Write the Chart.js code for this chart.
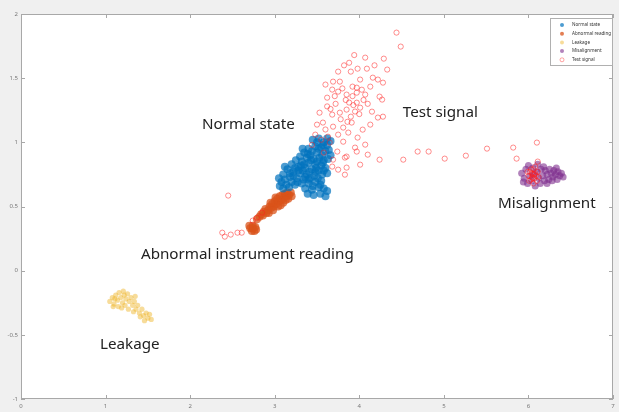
<!DOCTYPE html>
<html><head><meta charset="utf-8">
<script src="https://cdn.jsdelivr.net/npm/chart.js@4"></script>
<style>html,body{margin:0;padding:0;background:#f0f0f0;overflow:hidden}</style>
</head><body>
<canvas id="c" width="619" height="412"></canvas>
<script>
// ---- data ----
const seriesNames = ['Normal state', 'Abnormal reading', 'Leakage', 'Misalignment', 'Test signal'];
const xTicks = [0, 1, 2, 3, 4, 5, 6, 7];
const yTicks = [-1, -0.5, 0, 0.5, 1, 1.5, 2];

const normalState = [
  [3.45,1.02],[3.52,1.03],[3.58,1.00],[3.62,0.98],[3.66,1.01],[3.55,0.96],[3.48,0.97],[3.40,0.95],[3.60,0.93],[3.50,0.92],
  [3.42,0.90],[3.35,0.92],[3.56,0.90],[3.64,0.94],[3.38,0.88],[3.46,0.87],[3.53,0.88],[3.30,0.89],[3.66,0.90],[3.58,0.86],
  [3.25,0.86],[3.32,0.85],[3.40,0.84],[3.48,0.83],[3.55,0.82],[3.20,0.83],[3.28,0.81],[3.36,0.80],[3.44,0.79],[3.52,0.78],
  [3.60,0.80],[3.15,0.79],[3.22,0.77],[3.30,0.76],[3.38,0.75],[3.47,0.74],[3.56,0.75],[3.10,0.75],[3.18,0.73],[3.26,0.72],
  [3.34,0.71],[3.42,0.72],[3.62,0.76],[3.12,0.81],[3.35,0.83],[3.43,0.86],[3.50,0.85],
  [3.05,0.72],[3.08,0.69],[3.12,0.71],[3.06,0.66],[3.14,0.67],[3.20,0.69],[3.10,0.64],[3.17,0.65],[3.24,0.67],
  [3.32,0.68],[3.40,0.68],[3.48,0.69],[3.55,0.70],[3.36,0.64],[3.44,0.63],[3.52,0.65],[3.58,0.64],[3.62,0.62],[3.46,0.59],
  [3.54,0.60],[3.39,0.60],[3.60,0.58],[3.50,1.00],[3.57,0.98],[3.62,1.03],[3.28,0.78],[3.48,0.77],
  [3.33,0.95],[3.44,0.93],[3.52,0.95],[3.63,0.87],[3.24,0.80],[3.33,0.78],[3.41,0.77],[3.51,0.72],[3.58,0.78],[3.18,0.76],
  [3.27,0.69],[3.36,0.73],[3.45,0.66],[3.54,0.67],[3.22,0.74],[3.40,0.71],[3.49,0.80],[3.57,0.84],[3.31,0.82],[3.39,0.91]
];
const abnormalReading = [
  [2.84,0.44],[2.87,0.46],[2.86,0.43],[2.90,0.45],[2.89,0.48],[2.92,0.47],[2.94,0.50],[2.93,0.45],[2.96,0.49],[2.97,0.52],
  [2.99,0.50],[3.00,0.54],[3.02,0.52],[3.03,0.56],[3.05,0.54],[3.06,0.58],[3.08,0.55],[3.09,0.59],[3.11,0.57],[3.12,0.60],
  [3.14,0.58],[3.15,0.61],[3.17,0.59],[3.19,0.61],[3.20,0.58],[3.04,0.50],[3.10,0.53],[3.16,0.56],[2.98,0.47],[3.07,0.51],
  [3.13,0.55],[3.01,0.57],[2.95,0.53],
  [2.71,0.33],[2.74,0.35],[2.77,0.34],[2.73,0.31],[2.76,0.31],[2.74,0.33],[2.70,0.35],[2.78,0.32],[2.79,0.40],[2.82,0.42]
];
const leakage = [
  [1.05,-0.24],[1.08,-0.21],[1.10,-0.26],[1.12,-0.19],[1.14,-0.23],[1.16,-0.17],[1.18,-0.21],[1.20,-0.25],[1.22,-0.19],[1.24,-0.22],
  [1.26,-0.18],[1.15,-0.28],[1.19,-0.29],[1.23,-0.27],[1.28,-0.24],[1.30,-0.21],[1.32,-0.27],[1.34,-0.24],[1.36,-0.30],[1.38,-0.27],
  [1.40,-0.33],[1.43,-0.30],[1.45,-0.35],[1.48,-0.33],[1.50,-0.37],[1.52,-0.34],[1.54,-0.38],[1.46,-0.39],[1.41,-0.36],[1.33,-0.32],
  [1.27,-0.30],[1.11,-0.22],[1.21,-0.16],[1.09,-0.28],[1.35,-0.20]
];
const misalignment = [
  [5.92,0.76],[5.95,0.72],[5.97,0.79],[5.99,0.68],[6.00,0.82],[6.02,0.74],[6.04,0.70],[6.05,0.80],[6.08,0.66],[6.10,0.77],
  [6.12,0.72],[6.14,0.68],[6.15,0.79],[6.17,0.74],[6.19,0.70],[6.20,0.78],[6.22,0.75],[6.24,0.71],[6.25,0.79],[6.27,0.76],
  [6.29,0.73],[6.30,0.78],[6.32,0.75],[6.34,0.71],[6.35,0.77],[6.37,0.74],[6.39,0.76],[6.41,0.73],[6.22,0.68],[6.28,0.70],
  [6.18,0.81],[6.11,0.83],[6.33,0.80],[6.06,0.75],[5.94,0.69]
];
const testSignal = [
  [4.44,1.855],[4.49,1.746],[4.07,1.660],[4.29,1.652],[4.33,1.567],[3.75,1.551],[3.90,1.551],[3.98,1.574],[4.09,1.574],[3.69,1.473],
  [3.77,1.473],[4.01,1.489],[4.16,1.504],[4.22,1.489],[4.28,1.465],[3.92,1.434],[3.97,1.426],[4.13,1.434],[3.68,1.411],[3.75,1.395],
  [3.85,1.372],[3.97,1.387],[3.62,1.348],[4.24,1.356],[4.07,1.372],[4.27,1.333],[3.53,1.231],[3.68,1.216],[3.77,1.231],[3.85,1.255],
  [3.97,1.309],[4.01,1.270],[4.15,1.239],[4.22,1.193],[4.28,1.200],[3.57,1.154],[3.50,1.138],[3.69,1.122],[3.81,1.115],[3.91,1.154],
  [4.04,1.099],[4.13,1.138],[3.48,1.060],[3.63,1.044],[3.75,1.060],[3.87,1.076],[3.98,1.037],[3.65,0.998],[3.81,1.005],[3.95,0.959],
  [4.07,0.982],[3.74,0.928],[3.85,0.889],[3.97,0.928],[4.10,0.904],[3.69,0.865],[3.83,0.881],[4.24,0.865],[3.68,0.811],[3.85,0.803],
  [4.01,0.826],[3.75,0.787],[3.83,0.748],
  [3.93,1.29],[3.95,1.24],[4.05,1.33],[3.88,1.31],[4.10,1.30],[3.90,1.20],[3.60,1.10],[3.55,1.02],[3.44,0.98],[3.58,0.92],
  [3.62,1.28],[3.72,1.30],[3.80,1.42],[3.60,1.45],[3.88,1.62],[3.82,1.60],[4.18,1.60],[3.94,1.68],
  [3.84,1.33],[3.92,1.36],[4.00,1.22],[3.78,1.18],[3.86,1.16],[4.03,1.41],[3.71,1.36],[3.66,1.26],
  [4.52,0.865],[4.69,0.928],[4.82,0.928],[5.01,0.873],[5.26,0.896],[5.51,0.951],[5.82,0.959],[5.86,0.873],[6.10,0.998],[6.11,0.850],
  [2.45,0.585],[2.38,0.296],[2.41,0.265],[2.48,0.281],[2.56,0.296],[2.61,0.296],[2.74,0.390],[2.79,0.413],[2.85,0.452],
  [6.00,0.74],[6.02,0.77],[6.03,0.71],[6.05,0.75],[6.06,0.79],[6.07,0.72],[6.08,0.76],[6.09,0.74],[6.10,0.70],[6.04,0.73],
  [6.01,0.70],[6.06,0.68],[6.11,0.77],[6.03,0.79],[6.08,0.81],[5.99,0.77],[6.12,0.73],[6.05,0.72],[6.07,0.75],[6.04,0.76]
];

// text labels on the plot (anchor = left edge / vertical middle, in data units)
const annotationTexts = ['Normal state', 'Test signal', 'Misalignment', 'Abnormal instrument reading', 'Leakage'];
const annotationX = [2.14, 4.515, 5.64, 1.418, 0.934];
const annotationY = [1.138, 1.231, 0.522, 0.125, -0.577];

// ---- chart ----
const toPts = arr => arr.map(p => ({x: p[0], y: p[1]}));
const styles = [
  {bg: 'rgba(0,114,189,0.7)', bd: 'rgba(0,114,189,0.7)', r: 4, bw: 0},
  {bg: 'rgba(217,83,25,0.75)', bd: 'rgba(217,83,25,0.75)', r: 4, bw: 0},
  {bg: 'rgba(237,177,32,0.45)', bd: 'rgba(237,177,32,0.45)', r: 2.6, bw: 0},
  {bg: 'rgba(126,47,142,0.6)', bd: 'rgba(126,47,142,0.6)', r: 3.5, bw: 0},
  {bg: 'rgba(0,0,0,0)', bd: 'rgba(255,30,30,0.5)', r: 2.6, bw: 1}
];
const seriesData = [normalState, abnormalReading, leakage, misalignment, testSignal];

const deco = {
  id: 'deco',
  beforeDraw(chart) {
    const {ctx, chartArea: a} = chart;
    ctx.save();
    ctx.fillStyle = '#f0f0f0';
    ctx.fillRect(0, 0, chart.width, chart.height);
    ctx.fillStyle = '#ffffff';
    ctx.fillRect(a.left, a.top, a.right - a.left, a.bottom - a.top);
    ctx.restore();
  },
  afterDatasetsDraw(chart) {
    const {ctx, chartArea: a, scales} = chart;
    ctx.save();
    ctx.strokeStyle = '#a8a8a8';
    ctx.lineWidth = 1;
    ctx.strokeRect(Math.round(a.left) + 0.5, Math.round(a.top) + 0.5, Math.round(a.right - a.left) - 1, Math.round(a.bottom - a.top) - 1);
    ctx.beginPath();
    scales.x.ticks.forEach(t => {
      const px = Math.round(scales.x.getPixelForValue(t.value)) + 0.5;
      ctx.moveTo(px, a.bottom); ctx.lineTo(px, a.bottom - 4);
      ctx.moveTo(px, a.top); ctx.lineTo(px, a.top + 4);
    });
    scales.y.ticks.forEach(t => {
      const py = Math.round(scales.y.getPixelForValue(t.value)) + 0.5;
      ctx.moveTo(a.left, py); ctx.lineTo(a.left + 4, py);
      ctx.moveTo(a.right, py); ctx.lineTo(a.right - 4, py);
    });
    ctx.stroke();
    ctx.fillStyle = '#222222';
    ctx.font = '15.2px "Noto Sans", "DejaVu Sans", sans-serif';
    ctx.textAlign = 'left';
    ctx.textBaseline = 'middle';
    annotationTexts.forEach((t, i) => {
      ctx.fillText(t, scales.x.getPixelForValue(annotationX[i]), scales.y.getPixelForValue(annotationY[i]));
    });
    const lw = 62, lh = 47;
    const lx = a.right - lw - 1, ly = a.top + 4;
    ctx.fillStyle = '#ffffff';
    ctx.fillRect(lx, ly, lw, lh);
    ctx.strokeStyle = '#b0b0b0';
    ctx.strokeRect(lx + 0.5, ly + 0.5, lw, lh);
    ctx.font = '4.6px "Noto Sans", sans-serif';
    ctx.textBaseline = 'middle';
    chart.data.datasets.forEach((ds, i) => {
      const cy = ly + 7 + i * 8.7;
      const cx = lx + 12;
      ctx.beginPath();
      ctx.arc(cx, cy, 2, 0, Math.PI * 2);
      if (ds.borderWidth > 0) { ctx.strokeStyle = ds.borderColor; ctx.lineWidth = 0.8; ctx.stroke(); }
      else { ctx.fillStyle = ds.backgroundColor; ctx.fill(); }
      ctx.fillStyle = '#333333';
      ctx.fillText(ds.label, lx + 22, cy);
    });
    ctx.restore();
  }
};

new Chart(document.getElementById('c'), {
  type: 'scatter',
  data: {
    datasets: seriesData.map((d, i) => ({
      label: seriesNames[i],
      data: toPts(d),
      backgroundColor: styles[i].bg,
      borderColor: styles[i].bd,
      borderWidth: styles[i].bw,
      pointRadius: styles[i].r,
      pointHoverRadius: styles[i].r,
      order: i === 4 ? 0 : 1
    }))
  },
  options: {
    responsive: false,
    animation: false,
    devicePixelRatio: 1,
    layout: {padding: {top: 14, right: 6, left: 0, bottom: 0}},
    plugins: {legend: {display: false}, tooltip: {enabled: false}},
    scales: {
      x: {
        type: 'linear', min: 0, max: 7,
        afterBuildTicks: s => { s.ticks = xTicks.map(v => ({value: v})); },
        afterFit: s => { s.height = 13; },
        grid: {display: false, drawTicks: false},
        border: {display: false},
        ticks: {font: {size: 6, family: 'Noto Sans'}, color: '#777', padding: 4, maxRotation: 0, callback: v => String(v)}
      },
      y: {
        type: 'linear', min: -1, max: 2,
        afterBuildTicks: s => { s.ticks = yTicks.map(v => ({value: v})); },
        afterFit: s => { s.width = 21; },
        grid: {display: false, drawTicks: false},
        border: {display: false},
        ticks: {font: {size: 6, family: 'Noto Sans'}, color: '#777', padding: 3, callback: v => String(v)}
      }
    }
  },
  plugins: [deco]
});
</script>
</body></html>
